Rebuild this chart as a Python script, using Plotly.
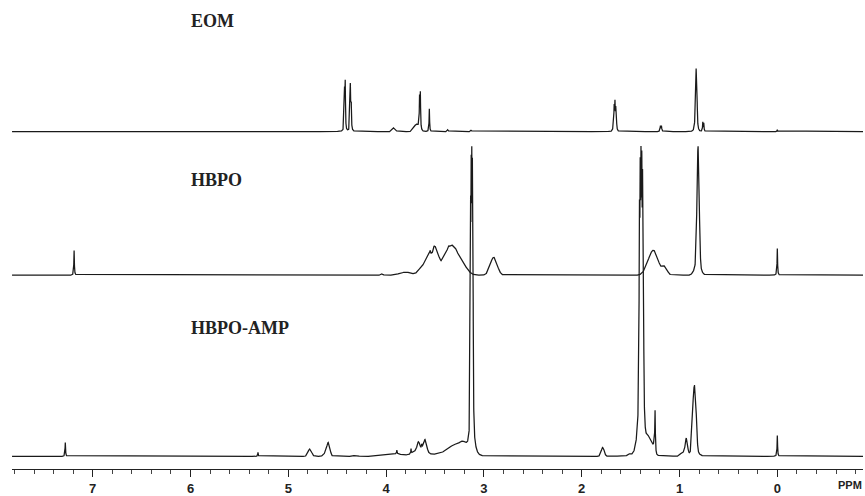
import numpy as np
import plotly.graph_objects as go

# ---------------- data ----------------
# Each peak: (chemical shift ppm, intensity, width ppm, shape) ; shape L = Lorentzian line, G = Gaussian hump
SPECTRA_NAMES = ["EOM", "HBPO", "HBPO-AMP"]

EOM_PEAKS = [
    (4.425, 38, 0.003, "L"), (4.418, 46, 0.003, "L"),
    (4.366, 44, 0.003, "L"), (4.358, 38, 0.003, "L"),
    (3.92, 4, 0.015, "G"),
    (3.69, 7, 0.025, "G"),
    (3.658, 30, 0.003, "L"), (3.650, 35, 0.003, "L"),
    (3.558, 23, 0.003, "L"),
    (3.37, 2, 0.006, "G"), (3.13, 1.5, 0.006, "G"),
    (1.675, 9, 0.003, "L"), (1.668, 19, 0.003, "L"), (1.660, 22, 0.003, "L"),
    (1.652, 17, 0.003, "L"), (1.645, 8, 0.003, "L"), (1.66, 5, 0.012, "G"),
    (1.195, 4, 0.003, "L"), (1.185, 4, 0.003, "L"), (1.19, 2, 0.01, "G"),
    (0.838, 35, 0.003, "L"), (0.830, 48, 0.003, "L"), (0.822, 42, 0.003, "L"),
    (0.83, 6, 0.012, "G"),
    (0.762, 9, 0.003, "L"), (0.752, 8, 0.003, "L"),
    (0.0, 2, 0.003, "L"),
]

HBPO_PEAKS = [
    (7.19, 25, 0.003, "L"),
    (4.04, 1.5, 0.01, "G"),
    (3.80, 3, 0.06, "G"), (3.62, 10, 0.04, "G"), (3.56, 16, 0.025, "G"),
    (3.495, 27, 0.03, "G"), (3.40, 13, 0.04, "G"), (3.32, 27, 0.05, "G"),
    (3.22, 10, 0.05, "G"),
    (3.55, 3, 0.004, "L"), (3.51, 3, 0.004, "L"), (3.45, 2, 0.004, "L"),
    (3.36, 2, 0.004, "L"), (3.28, 2, 0.004, "L"),
    (2.90, 18, 0.035, "G"),
    (1.32, 6, 0.04, "G"), (1.26, 23, 0.045, "G"), (1.15, 8, 0.025, "G"),
    (0.81, 118, 0.011, "G"), (0.815, 12, 0.03, "G"),
    (0.0, 27, 0.003, "L"),
]

AMP_PEAKS = [
    (7.28, 14, 0.003, "L"),
    (5.31, 4, 0.003, "L"),
    (4.78, 7.5, 0.018, "G"),
    (4.59, 13, 0.016, "G"), (4.62, 3, 0.02, "G"),
    (4.31, 1, 0.02, "G"),
    (3.92, 2.5, 0.1, "G"), (3.89, 4, 0.003, "L"),
    (3.65, 8, 0.06, "G"), (3.745, 5, 0.003, "L"),
    (3.67, 7, 0.012, "G"), (3.60, 11, 0.015, "G"), (3.635, 4, 0.004, "L"),
    (3.40, 4, 0.08, "G"), (3.30, 9, 0.05, "G"), (3.21, 12, 0.04, "G"),
    (3.136, 190, 0.003, "L"), (3.130, 198, 0.003, "L"), (3.124, 200, 0.003, "L"),
    (3.118, 196, 0.003, "L"), (3.112, 185, 0.003, "L"),
    (3.12, 10, 0.03, "G"),
    (1.785, 9, 0.015, "G"), (1.51, 1.5, 0.01, "G"),
    (1.410, 175, 0.004, "L"), (1.402, 185, 0.004, "L"), (1.394, 188, 0.004, "L"),
    (1.386, 186, 0.004, "L"), (1.378, 180, 0.004, "L"), (1.370, 165, 0.004, "L"),
    (1.40, 25, 0.03, "G"),
    (1.32, 15, 0.025, "G"), (1.28, 8, 0.02, "G"),
    (1.25, 36, 0.003, "L"), (1.255, 8, 0.008, "G"),
    (0.93, 17, 0.012, "G"), (0.97, 4, 0.02, "G"),
    (0.858, 44, 0.012, "G"), (0.838, 48, 0.012, "G"), (0.85, 6, 0.04, "G"),
    (0.0, 21, 0.003, "L"),
]

# vertical stacking offsets of each trace (pixels above the axis)
OFFSETS = [339.5, 195.0, 12.7]

# x axis
X_LEFT, X_RIGHT = 7.825, -0.876
MAJOR_TICKS = [0, 1, 2, 3, 4, 5, 6, 7]
MAJOR_LABELS = ["0", "1", "2", "3", "4", "5", "6", "7"]


def build(peaks, x):
    y = np.zeros_like(x)
    for pos, h, w, shape in peaks:
        if shape == "L":
            y += h / (1.0 + ((x - pos) / w) ** 2)
        else:
            y += h * np.exp(-((x - pos) ** 2) / (2 * w * w))
    return y


x = np.arange(X_RIGHT, X_LEFT, 0.0005)
LINE = "#1a1a1a"

fig = go.Figure()
for name, peaks, off in zip(SPECTRA_NAMES, [EOM_PEAKS, HBPO_PEAKS, AMP_PEAKS], OFFSETS):
    y = build(peaks, x) + off
    fig.add_trace(go.Scatter(x=x, y=y, mode="lines", name=name,
                             line=dict(color=LINE, width=1.25), hoverinfo="skip"))

label_y = [450.5, 291.0, 141.5]
for name, ly in zip(SPECTRA_NAMES, label_y):
    fig.add_annotation(x=6.015, y=ly, xref="x", yref="y", text=name, showarrow=False,
                       xanchor="left", yanchor="middle",
                       font=dict(family="Liberation Serif, Times New Roman, serif",
                                 size=18, color="#222", weight="bold"))

fig.add_annotation(x=1.0, y=-0.034, xref="paper", yref="paper", text="PPM", showarrow=False,
                   xanchor="right", yanchor="middle", xshift=1,
                   font=dict(family="Liberation Sans, Arial, sans-serif", size=11,
                             color="#222", weight="bold"))

fig.update_layout(
    width=865, height=496,
    margin=dict(l=12, r=2, t=0, b=24),
    paper_bgcolor="white", plot_bgcolor="white",
    showlegend=False,
    xaxis=dict(range=[X_LEFT, X_RIGHT], showgrid=False, zeroline=False,
               showline=True, linecolor="#222", linewidth=1,
               tickmode="array", tickvals=MAJOR_TICKS, ticktext=MAJOR_LABELS,
               ticks="outside", ticklen=7, tickwidth=1, tickcolor="#222",
               tickfont=dict(family="Liberation Sans, Arial, sans-serif", size=13,
                             color="#222", weight="bold"),
               minor=dict(dtick=0.2, tick0=0, ticks="outside", ticklen=4,
                          tickwidth=1, tickcolor="#444", showgrid=False)),
    yaxis=dict(range=[0, 472], visible=False, showgrid=False, zeroline=False),
)

fig.write_html("out.html", config={"displayModeBar": False},
               post_script="document.body.style.margin='0px';")
